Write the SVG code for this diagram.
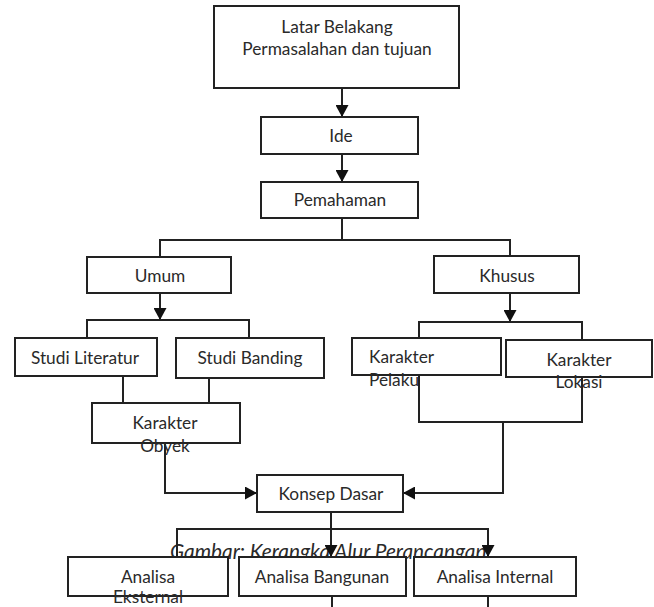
<svg xmlns="http://www.w3.org/2000/svg" width="654" height="607" viewBox="0 0 654 607">
<style>
.box{fill:#fff;stroke:#222;stroke-width:2}
.t{font-family:Lato,"Open Sans",sans-serif;font-size:17.3px;fill:#2a2a2a}
.m{text-anchor:middle}
.ln{fill:none;stroke:#222;stroke-width:2}
.cap{font-family:Lato,"Open Sans",sans-serif;font-size:20.8px;font-style:italic;fill:#2a2a2a}
</style>
<defs>
<marker id="ah" markerWidth="12" markerHeight="13" refX="12" refY="6.5" orient="auto" markerUnits="userSpaceOnUse">
<path d="M0,0 L12,6.5 L0,13 Z" fill="#111"/>
</marker>
</defs>
<rect width="654" height="607" fill="#fff"/>
<text class="cap" x="170" y="559">Gambar: Kerangka Alur Perancangan</text>
<g id="connectors">
<path class="ln" d="M342,88 V117" marker-end="url(#ah)"/>
<path class="ln" d="M342,154 V182" marker-end="url(#ah)"/>
<path class="ln" d="M342,218 V240 M160,257 V240 H510 V256"/>
<path class="ln" d="M160,293 V320" marker-end="url(#ah)"/>
<path class="ln" d="M87,338 V320 H249 V338"/>
<path class="ln" d="M510,293 V322" marker-end="url(#ah)"/>
<path class="ln" d="M419,338 V322 H582 V340"/>
<path class="ln" d="M123,376 V403 M209,378 V403"/>
<path class="ln" d="M165,443 V493 H257" marker-end="url(#ah)"/>
<path class="ln" d="M419,375 V422 H582 V377 M503,422 V493 H403" marker-end="url(#ah)"/>
<path class="ln" d="M331,512 V557" marker-end="url(#ah)"/>
<path class="ln" d="M177,557 V529 H488 V557" marker-start="url(#ah)" marker-end="url(#ah)"/>
<path class="ln" d="M332,596 V607 M488,596 V607"/>
</g>
<g id="latar"><rect class="box" x="214" y="6" width="245" height="82"/>
<text class="t m" x="337" y="33">Latar Belakang</text><text class="t m" x="337" y="55">Permasalahan dan tujuan</text></g>
<g id="ide"><rect class="box" x="261" y="117" width="157" height="37"/><text class="t m" x="341" y="142">Ide</text></g>
<g id="pemahaman"><rect class="box" x="261" y="182" width="157" height="36"/><text class="t m" x="340" y="206">Pemahaman</text></g>
<g id="umum"><rect class="box" x="87" y="257" width="144" height="36"/><text class="t m" x="160" y="282">Umum</text></g>
<g id="khusus"><rect class="box" x="434" y="256" width="145" height="37"/><text class="t m" x="507" y="282">Khusus</text></g>
<g id="studi-literatur"><rect class="box" x="15" y="338" width="142" height="38"/><text class="t m" x="85" y="364">Studi Literatur</text></g>
<g id="studi-banding"><rect class="box" x="176" y="338" width="148" height="40"/><text class="t m" x="250" y="364">Studi Banding</text></g>
<g id="karakter-obyek"><rect class="box" x="92" y="403" width="148" height="40"/><text class="t m" x="165" y="429">Karakter</text><text class="t m" x="165" y="452">Obyek</text></g>
<g id="karakter-pelaku"><rect class="box" x="352" y="338" width="149" height="37"/><text class="t" x="369" y="363">Karakter</text><text class="t" x="369" y="386">Pelaku</text></g>
<g id="karakter-lokasi"><rect class="box" x="506" y="340" width="146" height="37"/><text class="t m" x="579" y="366">Karakter</text><text class="t m" x="579" y="388">Lokasi</text></g>
<g id="konsep-dasar"><rect class="box" x="257" y="475" width="146" height="37"/><text class="t m" x="331" y="500">Konsep Dasar</text></g>
<g id="analisa-eksternal"><rect class="box" x="68" y="557" width="160" height="39"/><text class="t m" x="148" y="583">Analisa</text><text class="t m" x="148" y="603">Eksternal</text></g>
<g id="analisa-bangunan"><rect class="box" x="239" y="557" width="167" height="39"/><text class="t m" x="322" y="583">Analisa Bangunan</text></g>
<g id="analisa-internal"><rect class="box" x="414" y="557" width="162" height="39"/><text class="t m" x="495" y="583">Analisa Internal</text></g>
</svg>
